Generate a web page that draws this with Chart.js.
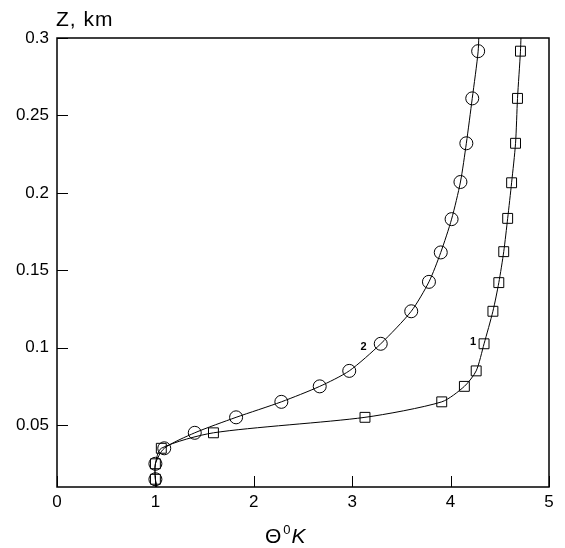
<!DOCTYPE html>
<html>
<head>
<meta charset="utf-8">
<script src="https://cdn.jsdelivr.net/npm/chart.js@4/dist/chart.umd.min.js"></script>
<style>
  body { margin: 0; background: #fff; }
  #wrap { width: 565px; height: 548px; }
</style>
</head>
<body>
<div id="wrap"><canvas id="profile" width="565" height="548"></canvas></div>
<script>
// curve 1 (squares); first and last entries only carry the line past the frame
const theta1 = [1.02, 1.0, 1.0, 1.06, 1.59, 3.13, 3.91, 4.14, 4.26, 4.34, 4.43, 4.49, 4.54, 4.58, 4.62, 4.66, 4.68, 4.71, 4.72];
const z1 = [0.008, 0.015, 0.025, 0.035, 0.045, 0.055, 0.065, 0.075, 0.085, 0.1025, 0.1235, 0.142, 0.162, 0.1835, 0.2065, 0.232, 0.261, 0.2915, 0.31];
// curve 2 (circles)
const theta2 = [1.02, 1.0, 1.0, 1.09, 1.40, 1.82, 2.28, 2.67, 2.97, 3.29, 3.60, 3.78, 3.90, 4.01, 4.10, 4.16, 4.22, 4.28, 4.29];
const z2 = [0.008, 0.015, 0.025, 0.035, 0.045, 0.055, 0.065, 0.075, 0.085, 0.1025, 0.1235, 0.1425, 0.1615, 0.183, 0.207, 0.232, 0.261, 0.2915, 0.31];
const xTicks = [0, 1, 2, 3, 4, 5];
const yTicks = [0.05, 0.1, 0.15, 0.2, 0.25, 0.3];
const curveNames = ["1", "2"];

function toPoints(xs, ys) {
  return xs.map(function (x, i) { return { x: x, y: ys[i] }; });
}

// no marker on the two off-frame helper entries
function markerRadius(r) {
  return function (c) { return (c.dataIndex === 0 || c.dataIndex === c.dataset.data.length - 1) ? 0 : r; };
}

const FONT = "'Liberation Sans', Arial, sans-serif";

// frame, inward ticks, titles and curve numbers
const decorations = {
  id: "decorations",
  afterDraw: function (chart) {
    const ctx = chart.ctx;
    const a = chart.chartArea;
    const xs = chart.scales.x, ys = chart.scales.y;
    ctx.save();
    ctx.strokeStyle = "#000";
    ctx.lineWidth = 1.5;
    ctx.strokeRect(a.left, a.top, a.right - a.left, a.bottom - a.top);
    ctx.lineWidth = 1;
    ctx.beginPath();
    xTicks.forEach(function (v) {
      const px = Math.round(xs.getPixelForValue(v)) + 0.5;
      ctx.moveTo(px, a.bottom);
      ctx.lineTo(px, a.bottom - 11);
    });
    yTicks.forEach(function (v) {
      const py = Math.round(ys.getPixelForValue(v)) + 0.5;
      ctx.moveTo(a.left, py);
      ctx.lineTo(a.left + 11, py);
    });
    ctx.stroke();

    ctx.fillStyle = "#000";
    ctx.textBaseline = "alphabetic";
    ctx.textAlign = "left";
    ctx.font = "21px " + FONT;
    ctx.letterSpacing = "1px";
    ctx.fillText("Z, km", a.left - 1, 26);
    ctx.letterSpacing = "0px";

    // x title: Θ⁰K
    const cx = (a.left + a.right) / 2;
    let tx = cx - 38, ty = 543;
    ctx.font = "21px " + FONT;
    ctx.fillText("Θ", tx, ty);
    tx += ctx.measureText("Θ").width + 2;
    ctx.font = "13px " + FONT;
    ctx.fillText("0", tx, ty - 9);
    tx += ctx.measureText("0").width + 1;
    ctx.font = "italic 21px " + FONT;
    ctx.fillText("K", tx, ty);

    // curve numbers next to the 10th entry of each curve
    ctx.font = "bold 11px " + FONT;
    ctx.textAlign = "right";
    const i = 9;
    ctx.fillText(curveNames[0], xs.getPixelForValue(theta1[i]) - 8, ys.getPixelForValue(z1[i]) + 1);
    ctx.fillText(curveNames[1], xs.getPixelForValue(theta2[i]) - 14, ys.getPixelForValue(z2[i]) + 6);
    ctx.restore();
  }
};

const tickFont = { family: FONT, size: 17 };

new Chart(document.getElementById("profile").getContext("2d"), {
  type: "scatter",
  data: {
    datasets: [
      {
        label: curveNames[0],
        data: toPoints(theta1, z1),
        showLine: true,
        tension: 0.25,
        borderColor: "#000",
        borderWidth: 1,
        pointStyle: "rect",
        pointRadius: markerRadius(7),
        pointBorderWidth: 1,
        pointBorderColor: "#000",
        pointBackgroundColor: "rgba(0,0,0,0)"
      },
      {
        label: curveNames[1],
        data: toPoints(theta2, z2),
        showLine: true,
        tension: 0.25,
        borderColor: "#000",
        borderWidth: 1,
        pointStyle: "circle",
        pointRadius: markerRadius(6.5),
        pointBorderWidth: 1,
        pointBorderColor: "#000",
        pointBackgroundColor: "rgba(0,0,0,0)"
      }
    ]
  },
  options: {
    responsive: false,
    animation: false,
    layout: { padding: { top: 38, right: 16, left: 0, bottom: 0 } },
    plugins: { legend: { display: false }, tooltip: { enabled: false } },
    scales: {
      x: {
        type: "linear",
        min: 0,
        max: 5,
        afterBuildTicks: function (scale) { scale.ticks = xTicks.map(function (v) { return { value: v }; }); },
        afterFit: function (scale) { scale.height = 61; },
        grid: { display: false, drawTicks: false },
        border: { display: false },
        ticks: { color: "#000", font: tickFont, padding: 5, maxRotation: 0 }
      },
      y: {
        type: "linear",
        min: 0.01,
        max: 0.3,
        afterBuildTicks: function (scale) { scale.ticks = yTicks.map(function (v) { return { value: v }; }); },
        afterFit: function (scale) { scale.width = 57; },
        grid: { display: false, drawTicks: false },
        border: { display: false },
        ticks: { color: "#000", font: tickFont, padding: 8, callback: function (v) { return String(+v.toFixed(3)); } }
      }
    }
  },
  plugins: [decorations]
});
</script>
</body>
</html>
